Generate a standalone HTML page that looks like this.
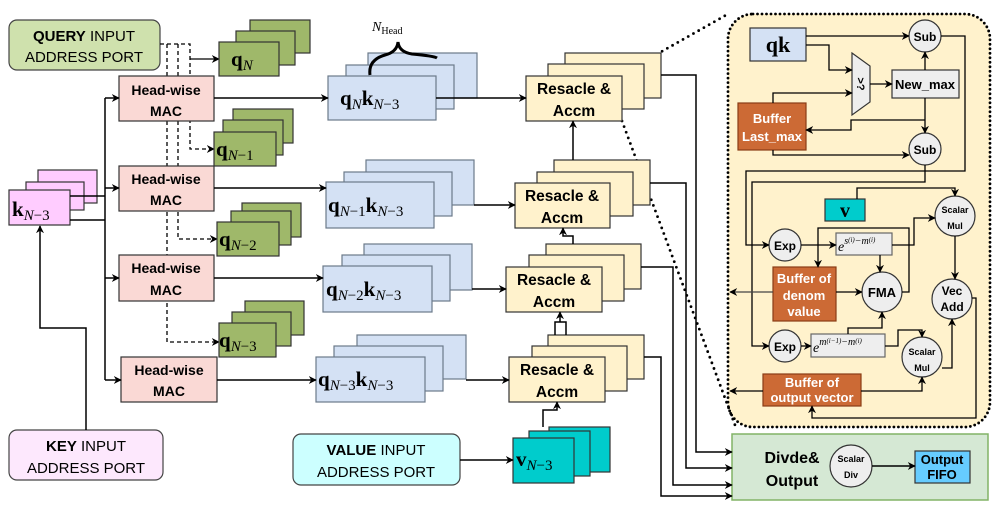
<!DOCTYPE html>
<html><head><meta charset="utf-8"><style>
body{margin:0;background:#fff}
svg{display:block}
.sf{font-family:"Liberation Sans",sans-serif}
.m{font-family:"Liberation Serif",serif}
</style></head><body>
<svg width="997" height="508" viewBox="0 0 997 508" xmlns="http://www.w3.org/2000/svg">
<defs>
<marker id="a" viewBox="0 0 10 10" refX="9" refY="5" markerWidth="8" markerHeight="8" orient="auto" markerUnits="userSpaceOnUse"><path d="M0,0 L10,5 L0,10 L3,5z" fill="#000"/></marker>
</defs>

<!-- Inset background -->
<rect x="728" y="14" width="262" height="413" rx="25" fill="#fff2cc" stroke="#000" stroke-width="2.8" stroke-dasharray="0 4.5" stroke-linecap="round"/>
<line x1="636" y1="66" x2="728" y2="14" stroke="#000" stroke-width="2.8" stroke-dasharray="0 6" stroke-linecap="round"/>
<line x1="622" y1="121" x2="735" y2="425" stroke="#000" stroke-width="2.8" stroke-dasharray="0 6" stroke-linecap="round"/>

<!-- Divide output -->
<rect x="732" y="434" width="256" height="66" fill="#d5e8d4" stroke="#82b366" stroke-width="1.5"/>
<text x="792" y="463" class="sf" font-size="16" font-weight="bold" text-anchor="middle">Divde&amp;</text>
<text x="792" y="486" class="sf" font-size="16" font-weight="bold" text-anchor="middle">Output</text>
<circle cx="851" cy="466" r="21" fill="#eee" stroke="#333" stroke-width="1.2"/>
<text x="851" y="462" class="sf" font-size="9" font-weight="bold" text-anchor="middle">Scalar</text>
<text x="851" y="478" class="sf" font-size="9" font-weight="bold" text-anchor="middle">Div</text>
<rect x="915" y="451" width="55" height="32" fill="#66ccff" stroke="#333" stroke-width="1.2"/>
<text x="942" y="464" class="sf" font-size="13" font-weight="bold" text-anchor="middle">Output</text>
<text x="942" y="479" class="sf" font-size="13" font-weight="bold" text-anchor="middle">FIFO</text>

<!-- Ports -->
<rect x="9" y="20" width="151" height="50" rx="8" fill="#cfe1ad" stroke="#444" stroke-width="1.2"/>
<text x="84" y="41" class="sf" font-size="15" text-anchor="middle"><tspan font-weight="bold">QUERY</tspan> INPUT</text>
<text x="84" y="62" class="sf" font-size="15" text-anchor="middle">ADDRESS PORT</text>
<rect x="9" y="430" width="154" height="50" rx="8" fill="#fde8fd" stroke="#444" stroke-width="1.2"/>
<text x="86" y="451" class="sf" font-size="15" text-anchor="middle"><tspan font-weight="bold">KEY</tspan> INPUT</text>
<text x="86" y="473" class="sf" font-size="15" text-anchor="middle">ADDRESS PORT</text>
<rect x="293" y="434" width="167" height="51" rx="8" fill="#ccffff" stroke="#444" stroke-width="1.2"/>
<text x="376" y="455" class="sf" font-size="15" text-anchor="middle"><tspan font-weight="bold">VALUE</tspan> INPUT</text>
<text x="376" y="477" class="sf" font-size="15" text-anchor="middle">ADDRESS PORT</text>

<!-- dashed query lines (behind MACs) -->
<g stroke="#000" stroke-width="1.3" fill="none" stroke-dasharray="4 3">
<path d="M160,44 H190 V149 H214" marker-end="url(#a)"/>
<path d="M190,59 H219" stroke-dasharray="none" marker-end="url(#a)"/>
<path d="M178,44 V239 H217" marker-end="url(#a)"/>
<path d="M167,44 V342 H219" marker-end="url(#a)"/>
</g>

<!-- k stack -->
<g fill="#ffccff" stroke="#333" stroke-width="1.2">
<rect x="38" y="170" width="59" height="33"/><rect x="26" y="182" width="58" height="28"/><rect x="9" y="190" width="61" height="35"/>
</g>
<text x="12" y="216" class="m" font-size="21"><tspan font-weight="bold">k</tspan><tspan font-style="italic" font-size="15" dy="4">N</tspan><tspan font-size="15">−3</tspan></text>

<!-- MACs -->
<g fill="#fad9d5" stroke="#333" stroke-width="1.2">
<rect x="119" y="76" width="95" height="45"/><rect x="119" y="166" width="95" height="45"/><rect x="119" y="255" width="95" height="46"/><rect x="121" y="357" width="96" height="45"/>
</g>
<g class="sf" font-size="14" font-weight="bold" text-anchor="middle">
<text x="166" y="95">Head-wise</text><text x="166" y="116">MAC</text>
<text x="166" y="184">Head-wise</text><text x="166" y="205">MAC</text>
<text x="166" y="273">Head-wise</text><text x="166" y="295">MAC</text>
<text x="169" y="375">Head-wise</text><text x="169" y="396">MAC</text>
</g>

<!-- q stacks -->
<g fill="#9fb86a" stroke="#333" stroke-width="1.2">
<rect x="250" y="20" width="60" height="33"/><rect x="236" y="31" width="59" height="34"/><rect x="219" y="42" width="60" height="34"/>
<rect x="233" y="109" width="60" height="34"/><rect x="223" y="120" width="60" height="35"/><rect x="214" y="132" width="62" height="34"/>
<rect x="242" y="203" width="59" height="34"/><rect x="231" y="211" width="60" height="34"/><rect x="217" y="222" width="62" height="34"/>
<rect x="245" y="301" width="59" height="34"/><rect x="232" y="312" width="59" height="34"/><rect x="219" y="323" width="57" height="34"/>
</g>
<g class="m" font-size="21">
<text x="231" y="66"><tspan font-weight="bold">q</tspan><tspan font-style="italic" font-size="15" dy="4">N</tspan></text>
<text x="216" y="156"><tspan font-weight="bold">q</tspan><tspan font-style="italic" font-size="15" dy="4">N</tspan><tspan font-size="15">−1</tspan></text>
<text x="219" y="246"><tspan font-weight="bold">q</tspan><tspan font-style="italic" font-size="15" dy="4">N</tspan><tspan font-size="15">−2</tspan></text>
<text x="219" y="347"><tspan font-weight="bold">q</tspan><tspan font-style="italic" font-size="15" dy="4">N</tspan><tspan font-size="15">−3</tspan></text>
</g>

<!-- qk stacks -->
<g fill="#d4e1f4" stroke="#6c7a8a" stroke-width="1.2">
<rect x="368" y="53" width="109" height="45"/><rect x="346" y="65" width="108" height="44"/><rect x="328" y="76" width="108" height="44"/>
<rect x="366" y="160" width="108" height="45"/><rect x="344" y="172" width="108" height="44"/><rect x="326" y="182" width="108" height="46"/>
<rect x="364" y="244" width="108" height="46"/><rect x="342" y="255" width="108" height="46"/><rect x="323" y="266" width="109" height="46"/>
<rect x="357" y="335" width="109" height="44"/><rect x="334" y="346" width="109" height="45"/><rect x="316" y="357" width="109" height="45"/>
</g>
<g class="m" font-size="21">
<text x="340" y="105"><tspan font-weight="bold">q</tspan><tspan font-style="italic" font-size="15" dy="4">N</tspan><tspan font-weight="bold" dy="-4">k</tspan><tspan font-style="italic" font-size="15" dy="4">N</tspan><tspan font-size="15">−3</tspan></text>
<text x="328" y="212"><tspan font-weight="bold">q</tspan><tspan font-style="italic" font-size="15" dy="4">N</tspan><tspan font-size="15">−1</tspan><tspan font-weight="bold" dy="-4">k</tspan><tspan font-style="italic" font-size="15" dy="4">N</tspan><tspan font-size="15">−3</tspan></text>
<text x="326" y="296"><tspan font-weight="bold">q</tspan><tspan font-style="italic" font-size="15" dy="4">N</tspan><tspan font-size="15">−2</tspan><tspan font-weight="bold" dy="-4">k</tspan><tspan font-style="italic" font-size="15" dy="4">N</tspan><tspan font-size="15">−3</tspan></text>
<text x="318" y="386"><tspan font-weight="bold">q</tspan><tspan font-style="italic" font-size="15" dy="4">N</tspan><tspan font-size="15">−3</tspan><tspan font-weight="bold" dy="-4">k</tspan><tspan font-style="italic" font-size="15" dy="4">N</tspan><tspan font-size="15">−3</tspan></text>
</g>
<path d="M370,75 Q368,60 385,55 Q397,52 398,42 Q399,52 412,54 Q434,56 437,58" fill="none" stroke="#000" stroke-width="3"/>
<text x="372" y="31" class="m" font-size="14"><tspan font-style="italic">N</tspan><tspan font-size="10" dy="3">Head</tspan></text>

<!-- Resacle stacks -->
<g fill="#fff2cc" stroke="#333" stroke-width="1.2">
<rect x="565" y="53" width="96" height="45"/><rect x="548" y="64" width="96" height="45"/><rect x="526" y="76" width="96" height="45"/>
<rect x="554" y="160" width="96" height="45"/><rect x="537" y="172" width="96" height="44"/><rect x="515" y="183" width="95" height="45"/>
<rect x="546" y="244" width="95" height="45"/><rect x="529" y="255" width="95" height="46"/><rect x="506" y="267" width="96" height="45"/>
<rect x="548" y="335" width="96" height="44"/><rect x="532" y="346" width="95" height="45"/><rect x="509" y="357" width="96" height="45"/>
</g>
<g class="sf" font-size="15.5" font-weight="bold" text-anchor="middle">
<text x="574" y="94">Resacle &amp;</text><text x="574" y="116">Accm</text>
<text x="562" y="201">Resacle &amp;</text><text x="562" y="223">Accm</text>
<text x="554" y="285">Resacle &amp;</text><text x="554" y="307">Accm</text>
<text x="557" y="375">Resacle &amp;</text><text x="557" y="397">Accm</text>
</g>

<!-- v stack -->
<g fill="#00cccc" stroke="#333" stroke-width="1.2">
<rect x="549" y="427" width="61" height="45"/><rect x="529" y="431" width="61" height="45"/><rect x="513" y="438" width="61" height="45"/>
</g>
<text x="516" y="466" class="m" font-size="21"><tspan font-weight="bold">v</tspan><tspan font-style="italic" font-size="15" dy="4">N</tspan><tspan font-size="15">−3</tspan></text>

<!-- Main connectors -->
<g stroke="#000" stroke-width="1.5" fill="none">
<path d="M70,196 H105"/><path d="M70,220 H105"/>
<path d="M105,98 V380"/>
<path d="M105,98 H119" marker-end="url(#a)"/><path d="M105,188 H119" marker-end="url(#a)"/><path d="M105,278 H119" marker-end="url(#a)"/><path d="M105,380 H121" marker-end="url(#a)"/>
<path d="M86,430 V328 H40 V226" marker-end="url(#a)"/>
<path d="M214,98 H328" marker-end="url(#a)"/><path d="M214,188 H326" marker-end="url(#a)"/><path d="M214,278 H323" marker-end="url(#a)"/><path d="M217,380 H316" marker-end="url(#a)"/>
<path d="M436,98 H526" marker-end="url(#a)"/><path d="M474,205 H515" marker-end="url(#a)"/><path d="M472,289 H506" marker-end="url(#a)"/><path d="M466,380 H509" marker-end="url(#a)"/>
<path d="M573,160 V121" marker-end="url(#a)"/>
<path d="M573,244 V236 H563 V228" marker-end="url(#a)"/>
<path d="M555,335 V322 H566 V335 M560,322 V312" marker-end="url(#a)"/>
<path d="M543,427 V410 H557 V402" marker-end="url(#a)"/>
<path d="M460,460 H513" marker-end="url(#a)"/>
<path d="M661,75 H696 V452 H732" marker-end="url(#a)"/>
<path d="M650,183 H686 V468 H732" marker-end="url(#a)"/>
<path d="M641,267 H673 V485 H732" marker-end="url(#a)"/>
<path d="M644,357 H661 V496 H732" marker-end="url(#a)"/>
<path d="M872,466 H915" marker-end="url(#a)"/>
</g>

<!-- Inset contents -->
<rect x="750" y="28" width="56" height="33" fill="#d4e1f4" stroke="#333" stroke-width="1.2"/>
<text x="778" y="52" class="m" font-size="22" font-weight="bold" text-anchor="middle">qk</text>
<polygon points="852,53 870,66 870,102 852,115" fill="#eee" stroke="#333" stroke-width="1.2"/>
<text x="861" y="88" class="sf" font-size="11" font-weight="bold" text-anchor="middle" transform="rotate(90 861 84)">&gt;?</text>
<rect x="892" y="70" width="67" height="28" fill="#eee" stroke="#333" stroke-width="1.2"/>
<text x="925" y="89" class="sf" font-size="13" font-weight="bold" text-anchor="middle">New_max</text>
<rect x="738" y="103" width="68" height="47" fill="#cc6a35" stroke="#8a3d15" stroke-width="1.2"/>
<text x="772" y="123" class="sf" font-size="13" font-weight="bold" fill="#fff" text-anchor="middle">Buffer</text>
<text x="772" y="141" class="sf" font-size="13" font-weight="bold" fill="#fff" text-anchor="middle">Last_max</text>
<rect x="825" y="199" width="40" height="22" fill="#00cccc" stroke="#333" stroke-width="1.2"/>
<text x="845" y="217" class="m" font-size="20" font-weight="bold" text-anchor="middle">v</text>
<rect x="836" y="233" width="56" height="22" fill="#eee" stroke="#666" stroke-width="1.2"/>
<text x="838" y="251" class="m" font-size="14" font-style="italic">e<tspan font-size="10" dy="-7">s<tspan font-size="7" dy="-2">(i)</tspan><tspan dy="2">−m</tspan><tspan font-size="7" dy="-2">(i)</tspan></tspan></text>
<rect x="773" y="267" width="63" height="54" fill="#cc6a35" stroke="#8a3d15" stroke-width="1.2"/>
<text x="804" y="283" class="sf" font-size="13" font-weight="bold" fill="#fff" text-anchor="middle">Buffer of</text>
<text x="804" y="300" class="sf" font-size="13" font-weight="bold" fill="#fff" text-anchor="middle">denom</text>
<text x="804" y="316" class="sf" font-size="13" font-weight="bold" fill="#fff" text-anchor="middle">value</text>
<rect x="811" y="334" width="74" height="23" fill="#eee" stroke="#666" stroke-width="1.2"/>
<text x="813" y="352" class="m" font-size="14" font-style="italic">e<tspan font-size="10" dy="-7">m<tspan font-size="7" dy="-2">(i−1)</tspan><tspan dy="2">−m</tspan><tspan font-size="7" dy="-2">(i)</tspan></tspan></text>
<rect x="763" y="374" width="98" height="32" fill="#cc6a35" stroke="#8a3d15" stroke-width="1.2"/>
<text x="812" y="387" class="sf" font-size="13" font-weight="bold" fill="#fff" text-anchor="middle">Buffer of</text>
<text x="812" y="402" class="sf" font-size="13" font-weight="bold" fill="#fff" text-anchor="middle">output vector</text>
<g fill="#eee" stroke="#333" stroke-width="1.2">
<circle cx="925" cy="36" r="16"/><circle cx="925" cy="149" r="16"/><circle cx="955" cy="216" r="20"/><circle cx="785" cy="245" r="16"/><circle cx="882" cy="292" r="20"/><circle cx="952" cy="299" r="20"/><circle cx="785" cy="346" r="16"/><circle cx="922" cy="357" r="20"/>
</g>
<g class="sf" font-weight="bold" text-anchor="middle">
<text x="925" y="41" font-size="12">Sub</text><text x="925" y="154" font-size="12">Sub</text>
<text x="955" y="213" font-size="9">Scalar</text><text x="955" y="229" font-size="9">Mul</text>
<text x="785" y="250" font-size="12">Exp</text><text x="882" y="297" font-size="13">FMA</text>
<text x="952" y="295" font-size="12">Vec</text><text x="952" y="311" font-size="12">Add</text>
<text x="785" y="351" font-size="12">Exp</text>
<text x="922" y="355" font-size="9">Scalar</text><text x="922" y="371" font-size="9">Mul</text>
</g>
<g stroke="#000" stroke-width="1.3" fill="none">
<path d="M806,36 H909" marker-end="url(#a)"/>
<path d="M806,45 H829 V70 H852" marker-end="url(#a)"/>
<path d="M773,103 V93 H852" marker-end="url(#a)"/>
<path d="M870,84 H892" marker-end="url(#a)"/>
<path d="M925,70 V52" marker-end="url(#a)"/>
<path d="M925,98 V133" marker-end="url(#a)"/>
<path d="M925,120 H851 V130 H806" marker-end="url(#a)"/>
<path d="M773,150 V155 H909" marker-end="url(#a)"/>
<path d="M941,36 H965 V171 H746 V245 H769" marker-end="url(#a)"/>
<path d="M925,165 V182 H752 V346 H769" marker-end="url(#a)"/>
<path d="M857,199 V188 H955 V196" marker-end="url(#a)"/>
<path d="M801,245 H836" marker-end="url(#a)"/>
<path d="M892,245 H914 V218 H935" marker-end="url(#a)"/>
<path d="M902,292 H909 V228 H818 V267" marker-end="url(#a)"/>
<path d="M880,255 V272" marker-end="url(#a)"/>
<path d="M836,292 H862" marker-end="url(#a)"/>
<path d="M773,292 H730" stroke="#444" marker-end="url(#a)"/>
<path d="M801,346 H811" marker-end="url(#a)"/>
<path d="M848,334 V328 H882 V312" marker-end="url(#a)"/>
<path d="M885,346 H898 V330 H922 V337" marker-end="url(#a)"/>
<path d="M955,236 V279" marker-end="url(#a)"/>
<path d="M942,368 H952 V319" marker-end="url(#a)"/>
<path d="M972,298 H976 V418 H812 V406" marker-end="url(#a)"/>
<path d="M861,391 H922 V377" marker-end="url(#a)"/>
<path d="M763,391 H730" marker-end="url(#a)"/>
</g>
</svg>
</body></html>
